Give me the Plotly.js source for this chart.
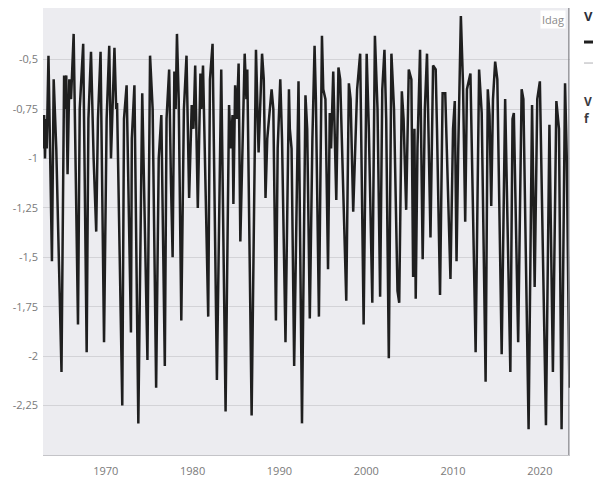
<!DOCTYPE html>
<html>
<head>
<meta charset="utf-8">
<script src="https://cdn.plot.ly/plotly-3.0.1.min.js"></script>
<style>
html,body{margin:0;padding:0;background:#fff;overflow:hidden;}
#chart{width:593px;height:479px;}
</style>
</head>
<body>
<div id="chart"></div>
<script>
// Decimal years and water level (m)
var years = [
1962.8,1962.85,1962.9,1963.0,1963.1,1963.2,1963.4,1963.8,1964.0,1964.15,1964.3,1964.9,
1965.2,1965.3,1965.45,1965.6,1965.8,1966.0,1966.3,1966.8,1967.0,1967.4,1967.8,1968.0,
1968.3,1968.6,1968.9,1969.1,1969.4,1969.8,1970.0,1970.1,1970.4,1970.6,1971.0,1971.2,
1971.3,1971.9,1972.1,1972.4,1972.9,1973.0,1973.3,1973.75,1974.2,1974.8,1975.1,1975.3,
1975.4,1975.8,1976.1,1976.4,1976.8,1977.0,1977.3,1977.5,1977.7,1977.9,1978.05,1978.2,
1978.4,1978.7,1979.0,1979.3,1979.6,1979.9,1980.1,1980.3,1980.6,1980.9,1981.0,1981.2,
1981.8,1982.0,1982.3,1982.8,1983.3,1983.8,1984.2,1984.4,1984.6,1984.7,1984.9,1985.1,
1985.3,1985.5,1986.0,1986.2,1986.3,1986.8,1987.3,1987.6,1988.0,1988.2,1988.4,1988.6,
1989.1,1989.3,1989.6,1989.8,1990.1,1990.3,1990.7,1991.1,1991.2,1991.4,1991.7,1992.2,
1992.6,1993.0,1993.2,1993.5,1993.8,1994.05,1994.2,1994.55,1994.9,1995.05,1995.3,1995.6,
1995.8,1995.95,1996.2,1996.55,1996.8,1997.0,1997.1,1997.7,1998.0,1998.2,1998.5,1998.75,
1998.95,1999.3,1999.7,2000.05,2000.3,2000.7,2001.0,2001.3,2001.6,2001.85,2002.1,2002.3,
2002.6,2002.9,2003.2,2003.6,2003.8,2004.1,2004.3,2004.6,2004.9,2005.2,2005.4,2005.55,
2005.7,2005.9,2006.2,2006.5,2006.75,2007.0,2007.4,2007.7,2008.0,2008.15,2008.5,2008.8,
2009.1,2009.7,2010.0,2010.2,2010.4,2010.6,2010.9,2011.15,2011.4,2011.6,2012.0,2012.6,
2013.0,2013.3,2013.75,2014.0,2014.2,2014.4,2014.6,2014.85,2015.1,2015.6,2016.0,2016.6,
2016.85,2017.0,2017.5,2017.9,2018.1,2018.7,2019.1,2019.4,2019.7,2020.0,2020.7,2021.1,
2021.5,2021.9,2022.2,2022.5,2022.9,2023.1,2023.4
];
var levels = [
-0.85,-0.95,-0.78,-1.0,-0.8,-0.95,-0.48,-1.52,-0.6,-0.75,-0.95,-2.08,
-0.58,-0.75,-0.58,-1.08,-0.6,-0.7,-0.37,-1.84,-0.75,-0.42,-1.98,-0.8,
-0.46,-1.0,-1.37,-0.8,-0.46,-1.93,-0.9,-0.8,-0.43,-1.0,-0.44,-0.75,
-0.72,-2.25,-0.8,-0.63,-1.88,-0.9,-0.63,-2.34,-0.67,-2.02,-0.48,-0.67,
-0.75,-2.16,-1.0,-0.78,-2.05,-0.8,-0.55,-1.1,-1.5,-0.56,-0.75,-0.37,
-0.7,-1.82,-0.75,-0.48,-1.2,-0.73,-0.85,-0.53,-1.25,-0.57,-0.75,-0.53,
-1.8,-0.6,-0.42,-2.12,-0.55,-2.28,-0.73,-0.95,-0.78,-1.23,-0.63,-0.8,
-0.52,-1.42,-0.47,-0.7,-0.55,-2.3,-0.45,-0.97,-0.47,-0.6,-1.2,-0.9,
-0.65,-0.75,-1.82,-0.95,-0.6,-0.9,-1.93,-0.65,-0.85,-0.95,-2.05,-0.61,
-2.34,-0.68,-0.85,-1.81,-0.9,-0.43,-0.7,-1.8,-0.38,-0.65,-0.7,-1.56,
-0.77,-0.95,-0.56,-1.21,-0.54,-0.6,-0.77,-1.72,-0.62,-0.7,-1.27,-0.85,
-0.65,-0.47,-1.84,-0.47,-0.85,-1.73,-0.38,-0.75,-1.7,-0.65,-0.45,-0.8,
-2.01,-0.47,-0.75,-1.67,-1.73,-0.66,-0.8,-1.26,-0.55,-0.6,-1.6,-0.85,
-1.71,-0.95,-0.45,-1.51,-0.75,-0.47,-1.4,-0.53,-0.55,-0.85,-1.69,-0.67,
-0.67,-1.61,-0.85,-0.71,-1.52,-0.95,-0.28,-0.63,-1.32,-0.65,-0.57,-1.98,
-0.55,-0.77,-2.13,-0.65,-0.78,-1.24,-0.7,-0.51,-0.6,-1.99,-0.7,-2.08,
-0.8,-0.77,-1.93,-0.65,-0.7,-2.37,-0.73,-1.65,-0.7,-0.61,-2.35,-0.83,
-2.08,-0.71,-0.85,-2.37,-0.62,-1.0,-2.16
];
var xTickVals = [1970,1980,1990,2000,2010,2020];
var xTickLabels = ["1970","1980","1990","2000","2010","2020"];
var yTickVals = [-0.5,-0.75,-1,-1.25,-1.5,-1.75,-2,-2.25];
var yTickLabels = ["-0,5","-0,75","-1","-1,25","-1,5","-1,75","-2","-2,25"];
var todayLabel = "Idag";
var legendTexts = ["V","V","f"];

var trace = {
  x: years, y: levels, type: 'scatter', mode: 'lines',
  line: {color: '#1f1f1f', width: 2.5},
  hoverinfo: 'skip', showlegend: false
};

var L = 42.7, R = 570, T = 8, B = 454.7, W = 593, H = 479;
function px(xp){ return (xp - L) / (R - L); }
function py(yp){ return (B - yp) / (B - T); }

var layout = {
  width: W, height: H,
  margin: {l: L, r: W - R, t: T, b: H - B, pad: 0},
  paper_bgcolor: '#ffffff',
  plot_bgcolor: '#ececf0',
  showlegend: false,
  font: {family: 'Open Sans, Noto Sans, sans-serif', size: 11, color: '#7a7a7a'},
  xaxis: {
    range: [1962.77, 2023.47], tickvals: xTickVals, ticktext: xTickLabels,
    showgrid: false, zeroline: false, showline: true, linecolor: '#c4c4c8', linewidth: 1,
    ticks: '', ticklabelstandoff: 6, tickfont: {size: 11, color: '#7a7a7a'}, fixedrange: true
  },
  yaxis: {
    range: [-2.5, -0.239], tickvals: yTickVals, ticktext: yTickLabels,
    showgrid: true, gridcolor: '#d3d3d7', gridwidth: 1, zeroline: false,
    showline: false, ticks: '', ticklabelstandoff: 4, tickfont: {size: 11, color: '#7a7a7a'}, fixedrange: true
  },
  shapes: [
    {type: 'line', xref: 'paper', yref: 'paper', x0: px(568.8), x1: px(568.8), y0: 0, y1: 1,
     line: {color: '#8a8a8e', width: 1.2}},
    {type: 'line', xref: 'paper', yref: 'paper', x0: px(584), x1: px(600), y0: py(42), y1: py(42),
     line: {color: '#1f1f1f', width: 3}},
    {type: 'line', xref: 'paper', yref: 'paper', x0: px(584), x1: px(600), y0: py(63), y1: py(63),
     line: {color: '#b0b0b4', width: 1}}
  ],
  annotations: [
    {xref: 'paper', yref: 'paper', x: px(566), y: py(19), xanchor: 'right', yanchor: 'middle',
     text: todayLabel, showarrow: false, bgcolor: '#ffffff', borderpad: 1,
     font: {size: 11, color: '#8a8a8a'}},
    {xref: 'paper', yref: 'paper', x: px(582), y: py(16), xanchor: 'left', yanchor: 'middle',
     text: '<b>' + legendTexts[0] + '</b>', showarrow: false,
     font: {size: 13, color: '#2b2f3a'}},
    {xref: 'paper', yref: 'paper', x: px(582), y: py(101), xanchor: 'left', yanchor: 'middle',
     text: '<b>' + legendTexts[1] + '</b>', showarrow: false,
     font: {size: 12, color: '#3a3a40'}},
    {xref: 'paper', yref: 'paper', x: px(582), y: py(118), xanchor: 'left', yanchor: 'middle',
     text: '<b>' + legendTexts[2] + '</b>', showarrow: false,
     font: {size: 12, color: '#3a3a40'}}
  ]
};

Plotly.newPlot('chart', [trace], layout, {displayModeBar: false, staticPlot: true});
</script>
</body>
</html>
